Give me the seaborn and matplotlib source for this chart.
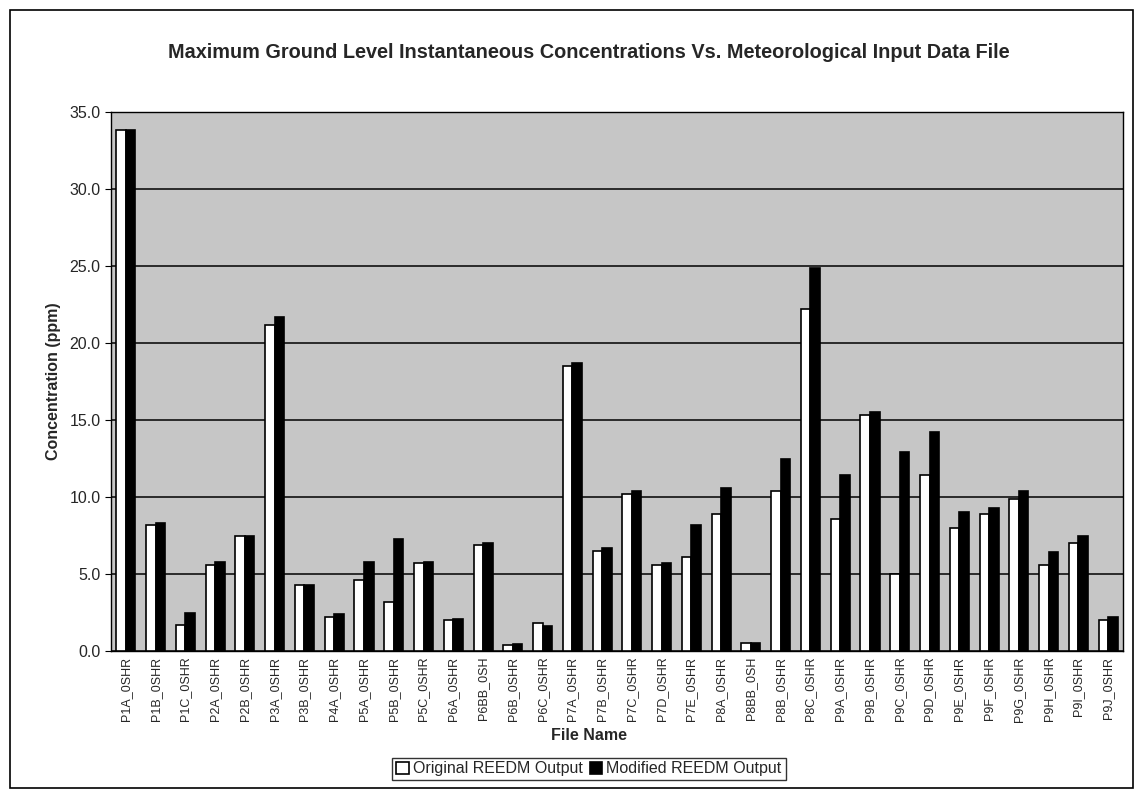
import numpy as np
import pandas as pd
import seaborn as sns
import matplotlib.pyplot as plt
from matplotlib.patches import Rectangle

############################ DATA #############################

file_names = ["P1A_0SHR", "P1B_0SHR", "P1C_0SHR", "P2A_0SHR", "P2B_0SHR",
              "P3A_0SHR", "P3B_0SHR", "P4A_0SHR", "P5A_0SHR", "P5B_0SHR",
              "P5C_0SHR", "P6A_0SHR", "P6BB_0SH", "P6B_0SHR", "P6C_0SHR",
              "P7A_0SHR", "P7B_0SHR", "P7C_0SHR", "P7D_0SHR", "P7E_0SHR",
              "P8A_0SHR", "P8BB_0SH", "P8B_0SHR", "P8C_0SHR", "P9A_0SHR",
              "P9B_0SHR", "P9C_0SHR", "P9D_0SHR", "P9E_0SHR", "P9F_0SHR",
              "P9G_0SHR", "P9H_0SHR", "P9I_0SHR", "P9J_0SHR"]

original = [33.8, 8.2, 1.7, 5.6, 7.5, 21.2, 4.3, 2.2, 4.6, 3.2,
            5.7, 2.0, 6.9, 0.4, 1.8, 18.5, 6.5, 10.2, 5.6, 6.1,
            8.9, 0.5, 10.4, 22.2, 8.6, 15.3, 5.0, 11.4, 8.0, 8.9,
            9.9, 5.6, 7.0, 2.0]

modified = [33.8, 8.3, 2.5, 5.8, 7.5, 21.7, 4.3, 2.4, 5.8, 7.3,
            5.8, 2.1, 7.0, 0.45, 1.65, 18.7, 6.7, 10.4, 5.7, 8.2,
            10.6, 0.55, 12.5, 24.9, 11.4, 15.5, 12.9, 14.2, 9.0, 9.3,
            10.4, 6.4, 7.5, 2.2]

series_names = ["Original REEDM Output", "Modified REEDM Output"]

############################ PLOT #############################

df = pd.DataFrame({
    "File Name": file_names * 2,
    "Concentration": original + modified,
    "Series": [series_names[0]] * len(file_names) + [series_names[1]] * len(file_names),
})

sns.set_style("white")
plt.rcParams['font.family'] = ['Liberation Sans', 'DejaVu Sans']

W, H = 1143, 797
fig = plt.figure(figsize=(W / 100, H / 100), dpi=100)
ax = fig.add_axes([111 / W, 1 - 651 / H, (1123 - 111) / W, (651 - 112) / H])

sns.barplot(data=df, x="File Name", y="Concentration", hue="Series",
            palette=["white", "black"], edgecolor="black", linewidth=1.2,
            width=0.64, gap=0.0, ax=ax, zorder=3)

# grey background + black horizontal gridlines
ax.set_facecolor("#c6c6c6")
ax.set_ylim(0, 35)
yt = np.arange(0, 35.1, 5)
ax.set_yticks(yt)
ax.set_yticklabels([f"{v:.1f}" for v in yt], fontsize=11.5)
ax.yaxis.grid(True, color="black", linewidth=1.1, zorder=1)
ax.set_axisbelow(True)
ax.set_xlim(-0.5, len(file_names) - 0.5)

ax.set_xticks(range(len(file_names)))
ax.set_xticklabels(file_names, rotation=90, fontsize=9)
ax.set_xticks(np.arange(-0.5, len(file_names), 1), minor=True)
ax.tick_params(axis="x", which="major", length=0, pad=4)
ax.tick_params(axis="x", which="minor", length=4, direction="out", color="black")
ax.tick_params(axis="y", length=4, direction="out", color="black", left=True)

for s in ax.spines.values():
    s.set_color("black")
    s.set_linewidth(1.0)

ax.set_xlabel("")
ax.set_ylabel("Concentration (ppm)", fontsize=11.5, fontweight="bold", labelpad=6)
fig.text(589 / W, 1 - 736 / H, "File Name", ha="center", va="center",
         fontsize=11.5, fontweight="bold")
fig.text(589 / W, 1 - 52 / H,
         "Maximum Ground Level Instantaneous Concentrations Vs. Meteorological Input Data File",
         ha="center", va="center", fontsize=14.3, fontweight="bold")

ax.legend_.remove()
handles, labels = ax.get_legend_handles_labels()
fig.legend(handles, labels, loc="center", bbox_to_anchor=(589 / W, 1 - 769 / H),
           ncol=2, frameon=True, fancybox=False, edgecolor="black", fontsize=11.5,
           handlelength=0.8, handleheight=0.8, handletextpad=0.25, columnspacing=0.4,
           borderpad=0.25, borderaxespad=0)

# outer chart border
fig.patches.append(Rectangle((10 / W, 1 - 788 / H), 1123 / W, 778 / H,
                             transform=fig.transFigure, fill=False,
                             edgecolor="black", linewidth=1.2))

plt.savefig("out.png", dpi=100)
